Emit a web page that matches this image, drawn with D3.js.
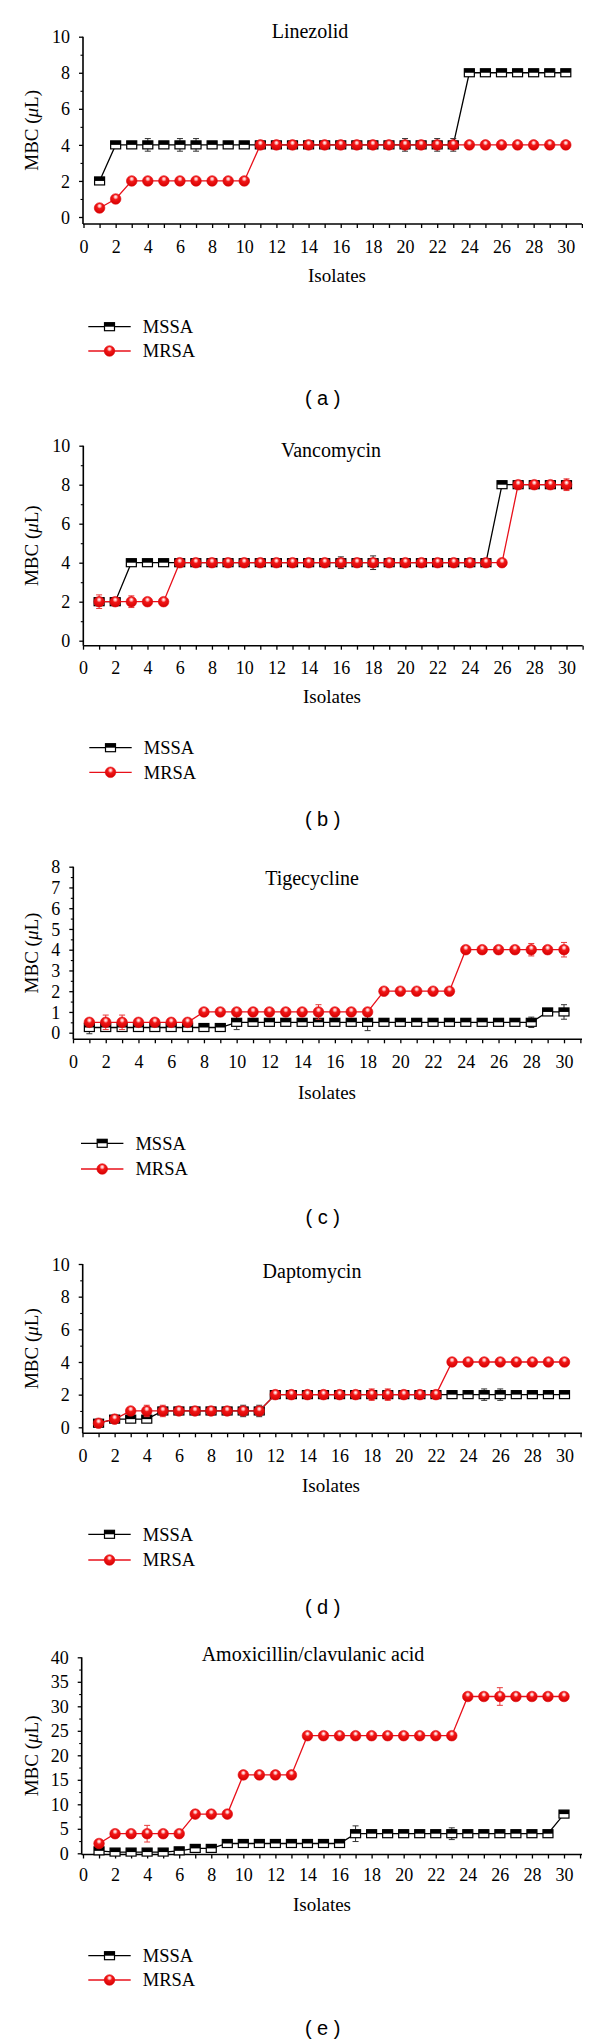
<!DOCTYPE html>
<html><head><meta charset="utf-8">
<script src="https://cdn.jsdelivr.net/npm/d3@7"></script>
<style>body{margin:0;background:#fff} svg{display:block;background:#fff}</style>
</head><body>
<svg id="chart" width="600" height="2043"></svg>
<script>
// ---------- DATA ----------
const isolates = [1,2,3,4,5,6,7,8,9,10,11,12,13,14,15,16,17,18,19,20,21,22,23,24,25,26,27,28,29,30];
const xTickValues = [0,1,2,3,4,5,6,7,8,9,10,11,12,13,14,15,16,17,18,19,20,21,22,23,24,25,26,27,28,29,30,31];
const seriesNames = ["MSSA", "MRSA"];
const titles = ["Linezolid", "Vancomycin", "Tigecycline", "Daptomycin", "Amoxicillin/clavulanic acid"];
const tags = ["( a )", "( b )", "( c )", "( d )", "( e )"];

const linezolidMSSA = [2,4,4,4,4,4,4,4,4,4,4,4,4,4,4,4,4,4,4,4,4,4,4,8,8,8,8,8,8,8];
const linezolidMRSA = [0.5,1,2,2,2,2,2,2,2,2,4,4,4,4,4,4,4,4,4,4,4,4,4,4,4,4,4,4,4,4];
const linezolidMSSAErr = [[4,0.35],[6,0.35],[7,0.35],[20,0.35],[22,0.35],[23,0.35]];
const linezolidMRSAErr = [];

const vancomycinMSSA = [2,2,4,4,4,4,4,4,4,4,4,4,4,4,4,4,4,4,4,4,4,4,4,4,4,8,8,8,8,8];
const vancomycinMRSA = [2,2,2,2,2,4,4,4,4,4,4,4,4,4,4,4,4,4,4,4,4,4,4,4,4,4,8,8,8,8];
const vancomycinMSSAErr = [[16,0.3],[17,0.2],[18,0.35]];
const vancomycinMRSAErr = [[1,0.35],[3,0.3],[28,0.2],[30,0.3]];

const tigecyclineMSSA = [0.25,0.25,0.25,0.25,0.25,0.25,0.25,0.25,0.25,0.5,0.5,0.5,0.5,0.5,0.5,0.5,0.5,0.5,0.5,0.5,0.5,0.5,0.5,0.5,0.5,0.5,0.5,0.5,1,1];
const tigecyclineMRSA = [0.5,0.5,0.5,0.5,0.5,0.5,0.5,1,1,1,1,1,1,1,1,1,1,1,2,2,2,2,2,4,4,4,4,4,4,4];
const tigecyclineMSSAErr = [[1,0.3],[10,0.35],[16,0.2],[18,0.4],[28,0.25],[30,0.35]];
const tigecyclineMRSAErr = [[2,0.35],[3,0.35],[15,0.35],[28,0.3],[30,0.35]];

const daptomycinMSSA = [0.25,0.5,0.5,0.5,1,1,1,1,1,1,1,2,2,2,2,2,2,2,2,2,2,2,2,2,2,2,2,2,2,2];
const daptomycinMRSA = [0.25,0.5,1,1,1,1,1,1,1,1,1,2,2,2,2,2,2,2,2,2,2,2,4,4,4,4,4,4,4,4];
const daptomycinMSSAErr = [[10,0.35],[11,0.35],[25,0.35],[26,0.35]];
const daptomycinMRSAErr = [[4,0.35],[5,0.35],[18,0.35],[19,0.35]];

const amoxiclavMSSA = [0.5,0.25,0.25,0.25,0.25,0.5,1,1,2,2,2,2,2,2,2,2,4,4,4,4,4,4,4,4,4,4,4,4,4,8];
const amoxiclavMRSA = [2,4,4,4,4,4,8,8,8,16,16,16,16,24,24,24,24,24,24,24,24,24,24,32,32,32,32,32,32,32];
const amoxiclavMSSAErr = [[17,1.6],[23,1.2]];
const amoxiclavMRSAErr = [[4,1.7],[26,1.8]];

const yMaxes = [10, 10, 8, 10, 40];
const yMajorTicks = [[0,2,4,6,8,10],[0,2,4,6,8,10],[0,1,2,3,4,5,6,7,8],[0,2,4,6,8,10],[0,5,10,15,20,25,30,35,40]];
const yMinorTicks = [[1,3,5,7,9],[1,3,5,7,9],[0.5,1.5,2.5,3.5,4.5,5.5,6.5,7.5],[1,3,5,7,9],[2.5,7.5,12.5,17.5,22.5,27.5,32.5,37.5]];

const mssaSeries = [linezolidMSSA, vancomycinMSSA, tigecyclineMSSA, daptomycinMSSA, amoxiclavMSSA];
const mrsaSeries = [linezolidMRSA, vancomycinMRSA, tigecyclineMRSA, daptomycinMRSA, amoxiclavMRSA];
const mssaErrors = [linezolidMSSAErr, vancomycinMSSAErr, tigecyclineMSSAErr, daptomycinMSSAErr, amoxiclavMSSAErr];
const mrsaErrors = [linezolidMRSAErr, vancomycinMRSAErr, tigecyclineMRSAErr, daptomycinMRSAErr, amoxiclavMRSAErr];

// ---------- LAYOUT ----------
const layouts = [
  {axisX:83,   x0:83.5, x30:565.8, xEnd:582,   yTop:36.7,   yZero:217,    xAxisY:224,    tickLabY:246.7,  titleX:310, titleY:31,    isoX:337, isoY:275,    legX:88.3, legY:[326.7,351],    tagY:398.3},
  {axisX:83.3, x0:83,   x30:566.5, xEnd:582.7, yTop:445.7,  yZero:640.7,  xAxisY:645.7,  tickLabY:667.7,  titleX:331, titleY:450,   isoX:332, isoY:696.7,  legX:89.3, legY:[747.7,772.3],  tagY:819},
  {axisX:73.3, x0:73,   x30:564,   xEnd:582,   yTop:866.7,  yZero:1032.7, xAxisY:1039.3, tickLabY:1062.3, titleX:312, titleY:878.3, isoX:327, isoY:1092.3, legX:81,   legY:[1143.3,1169],  tagY:1216.7},
  {axisX:82.7, x0:82.5, x30:564.5, xEnd:582,   yTop:1264,   yZero:1427.3, xAxisY:1433.3, tickLabY:1455.7, titleX:312, titleY:1271,  isoX:331, isoY:1485,   legX:88.3, legY:[1534.3,1560],  tagY:1606.7},
  {axisX:81.7, x0:83,   x30:564,   xEnd:582,   yTop:1657.3, yZero:1853.3, xAxisY:1854.5, tickLabY:1875,   titleX:313, titleY:1654,  isoX:322, isoY:1904,   legX:88.3, legY:[1955.7,1980],  tagY:2027.7}
];

const SERIF = "'Liberation Serif', 'Times New Roman', serif";
const SANS = "'Liberation Sans', Arial, sans-serif";
const RED = "#e8101a";

const svg = d3.select("#chart");
const defs = svg.append("defs");
const grad = defs.append("radialGradient").attr("id","sphere").attr("cx","50%").attr("cy","35%").attr("r","65%").attr("fx","50%").attr("fy","30%");
grad.append("stop").attr("offset","0%").attr("stop-color","#ffffff");
grad.append("stop").attr("offset","18%").attr("stop-color","#ffb0b0");
grad.append("stop").attr("offset","38%").attr("stop-color","#f21818");
grad.append("stop").attr("offset","100%").attr("stop-color","#d40000");

function drawSquare(g) {
  g.append("rect").attr("x",-5).attr("y",-4).attr("width",10).attr("height",8)
    .attr("fill","#fff").attr("stroke","#000").attr("stroke-width",1.2);
  g.append("rect").attr("x",-5).attr("y",-4).attr("width",10).attr("height",4).attr("fill","#000");
}
function drawCircle(g) {
  g.append("circle").attr("r",5.3).attr("fill","url(#sphere)").attr("stroke","#e00a10").attr("stroke-width",0.6);
}

titles.forEach((title, p) => {
  const L = layouts[p];
  const x = d3.scaleLinear().domain([0,30]).range([L.x0, L.x30]);
  const y = d3.scaleLinear().domain([0, yMaxes[p]]).range([L.yZero, L.yTop]);
  const g = svg.append("g");

  // Y axis (major)
  const yAx = g.append("g").attr("transform",`translate(${L.axisX},0)`)
    .call(d3.axisLeft(y).tickValues(yMajorTicks[p]).tickSize(4).tickPadding(9).tickSizeOuter(0).tickFormat(d3.format("d")));
  yAx.select(".domain").remove();
  yAx.selectAll("line").attr("stroke","#000").attr("stroke-width",1.3);
  yAx.selectAll("text").attr("font-family",SERIF).attr("font-size",18).attr("fill","#000").attr("dy","0.34em");
  // Y axis minor
  const yMin = g.append("g").attr("transform",`translate(${L.axisX},0)`)
    .call(d3.axisLeft(y).tickValues(yMinorTicks[p]).tickSize(2.5).tickFormat(""));
  yMin.select(".domain").remove();
  yMin.selectAll("line").attr("stroke","#000").attr("stroke-width",1.1);
  g.append("line").attr("x1",L.axisX).attr("x2",L.axisX).attr("y1",y(yMaxes[p])).attr("y2",L.xAxisY)
    .attr("stroke","#000").attr("stroke-width",1.6);

  // X axis
  const xAx = g.append("g").attr("transform",`translate(0,${L.xAxisY})`)
    .call(d3.axisBottom(x).tickValues(xTickValues).tickSize(4).tickSizeOuter(0)
      .tickFormat(d => (d % 2 === 0 && d <= 30) ? d : ""));
  xAx.select(".domain").remove();
  xAx.selectAll("line").attr("stroke","#000").attr("stroke-width",1.3);
  xAx.selectAll("text").attr("font-family",SERIF).attr("font-size",18).attr("fill","#000")
    .attr("y", L.tickLabY - L.xAxisY).attr("dy","0.34em");
  g.append("line").attr("x1",L.axisX).attr("x2",L.xEnd).attr("y1",L.xAxisY).attr("y2",L.xAxisY)
    .attr("stroke","#000").attr("stroke-width",1.6);

  // Title
  g.append("text").attr("x",L.titleX).attr("y",L.titleY).attr("dy","0.35em").attr("text-anchor","middle")
    .attr("font-family",SERIF).attr("font-size",20).attr("fill","#000").text(title);
  // Axis labels
  g.append("text").attr("x",L.isoX).attr("y",L.isoY).attr("dy","0.35em").attr("text-anchor","middle")
    .attr("font-family",SERIF).attr("font-size",19).attr("fill","#000").text("Isolates");
  const yl = g.append("text").attr("transform",`translate(31.5,${(y(yMaxes[p]) + L.xAxisY)/2}) rotate(-90)`)
    .attr("dy","0.35em").attr("text-anchor","middle").attr("font-family",SERIF).attr("font-size",19).attr("fill","#000");
  yl.append("tspan").text("MBC (");
  yl.append("tspan").attr("font-style","italic").text("\u03BC");
  yl.append("tspan").text("L)");

  const series = [
    {vals: mssaSeries[p], errs: mssaErrors[p], color:"#000", errColor:"#333", marker: drawSquare},
    {vals: mrsaSeries[p], errs: mrsaErrors[p], color:RED, errColor:"#e83a3a", marker: drawCircle}
  ];
  series.forEach(s => {
    const line = d3.line().x((v,i) => x(isolates[i])).y(v => y(v));
    g.append("path").datum(s.vals).attr("d", line).attr("fill","none").attr("stroke",s.color).attr("stroke-width",1.3);
    s.errs.forEach(([iso, e]) => {
      const v = s.vals[isolates.indexOf(iso)];
      const cx = x(iso);
      const eg = g.append("g").attr("stroke",s.errColor).attr("stroke-width",1);
      eg.append("line").attr("x1",cx).attr("x2",cx).attr("y1",y(v-e)).attr("y2",y(v+e));
      eg.append("line").attr("x1",cx-3).attr("x2",cx+3).attr("y1",y(v-e)).attr("y2",y(v-e));
      eg.append("line").attr("x1",cx-3).attr("x2",cx+3).attr("y1",y(v+e)).attr("y2",y(v+e));
    });
    s.vals.forEach((v,i) => {
      const mg = g.append("g").attr("transform",`translate(${x(isolates[i])},${y(v)})`);
      s.marker(mg);
    });
  });

  // Legend
  series.forEach((s, k) => {
    const ly = L.legY[k];
    g.append("line").attr("x1",L.legX).attr("x2",L.legX+42.4).attr("y1",ly).attr("y2",ly)
      .attr("stroke",s.color).attr("stroke-width",1.3);
    const mg = g.append("g").attr("transform",`translate(${L.legX+21.2},${ly})`);
    s.marker(mg);
    g.append("text").attr("x",L.legX+54.4).attr("y",ly).attr("dy","0.35em")
      .attr("font-family",SERIF).attr("font-size",18.5).attr("fill","#000").text(seriesNames[k]);
  });

  // Panel tag
  g.append("text").attr("x",322.7).attr("y",L.tagY).attr("dy","0.35em").attr("text-anchor","middle")
    .attr("font-family",SANS).attr("font-size",20).attr("fill","#000").text(tags[p]);
});
</script>
</body></html>
